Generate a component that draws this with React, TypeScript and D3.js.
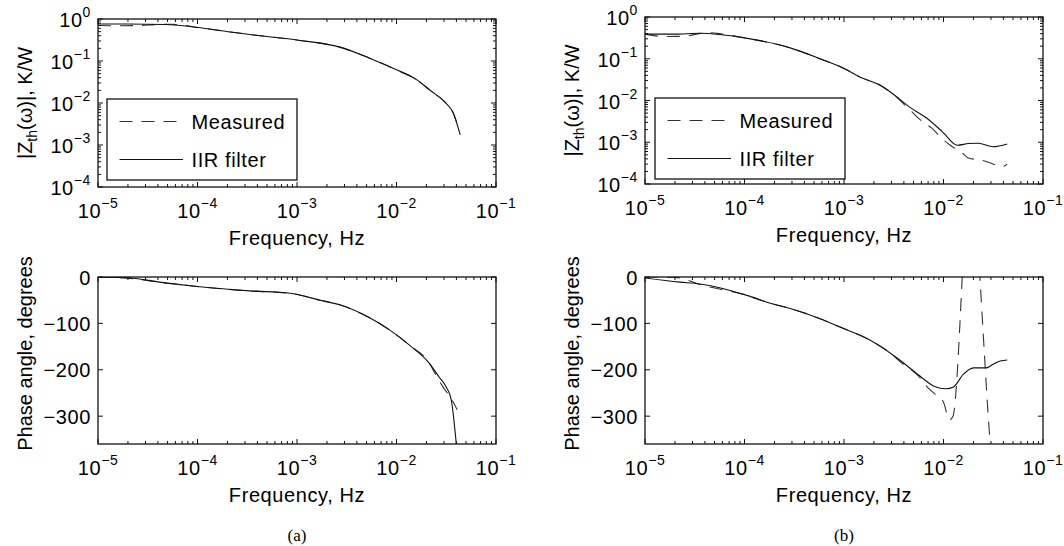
import React from "react";
import * as d3 from "d3";

// Frequencies in Hz and values.
// (a) magnitude |Zth|, K/W
const magAFreqIIR = [1e-5, 2e-5, 4.7e-5, 1.07e-4, 2.14e-4, 4.27e-4, 1.07e-3, 2.69e-3, 5.37e-3, 1e-2, 1.62e-2, 2.19e-2, 3.09e-2, 3.72e-2, 4.37e-2];
const magAIIR = [0.759, 0.759, 0.741, 0.617, 0.49, 0.398, 0.309, 0.214, 0.117, 0.0617, 0.035, 0.0198, 0.0103, 0.0058, 0.00174];
const magAFreqMeas = [1e-5, 1.6e-5, 2.5e-5, 4e-5, 5.5e-5, 1.07e-4, 2.14e-4, 4.27e-4, 1.07e-3, 2.69e-3, 5.37e-3, 1e-2, 1.62e-2, 2.19e-2, 3.09e-2, 3.72e-2, 4.2e-2];
const magAMeas = [0.7, 0.69, 0.7, 0.74, 0.75, 0.617, 0.49, 0.398, 0.309, 0.214, 0.117, 0.0617, 0.035, 0.0198, 0.0103, 0.0058, 0.0025];

// (a) phase, degrees
const phAFreqIIR = [1e-5, 2.09e-5, 4.17e-5, 1.05e-4, 3.39e-4, 8.51e-4, 1.7e-3, 2.69e-3, 5.37e-3, 8.51e-3, 1.35e-2, 2.14e-2, 2.69e-2, 3.16e-2, 3.55e-2, 4.07e-2];
const phAIIR = [0, -2, -11, -21, -30, -35, -50, -60, -88, -114, -147, -186, -216, -237, -265, -380];
const phAFreqMeas = [1e-5, 2.09e-5, 3e-5, 4.17e-5, 6e-5, 1.05e-4, 3.39e-4, 8.51e-4, 1.7e-3, 2.69e-3, 5.37e-3, 8.51e-3, 1.35e-2, 2.14e-2, 2.5e-2, 2.95e-2, 3.55e-2, 4.07e-2];
const phAMeas = [0, -3, -7, -12, -15, -21, -30, -35, -50, -60, -88, -114, -147, -186, -212, -238, -262, -286];

// (b) magnitude |Zth|, K/W
const magBFreqIIR = [1e-5, 2e-5, 3.55e-5, 1e-4, 2.88e-4, 6.17e-4, 9.77e-4, 1.45e-3, 2.29e-3, 3.09e-3, 4.57e-3, 6.76e-3, 9.77e-3, 1.38e-2, 1.78e-2, 2.24e-2, 3.16e-2, 4.37e-2];
const magBIIR = [0.389, 0.389, 0.407, 0.316, 0.182, 0.0933, 0.0603, 0.0363, 0.0234, 0.0145, 0.00692, 0.0038, 0.00178, 0.00085, 0.00093, 0.00095, 0.00078, 0.00091];
const magBFreqMeas = [1e-5, 1.6e-5, 2.5e-5, 3.5e-5, 4.5e-5, 6e-5, 1e-4, 2.88e-4, 6.17e-4, 9.77e-4, 1.45e-3, 2.29e-3, 3.09e-3, 4.57e-3, 6.17e-3, 7.59e-3, 9.55e-3, 1.17e-2, 1.55e-2, 1.78e-2, 2.45e-2, 2.95e-2, 3.89e-2, 4.37e-2];
const magBMeas = [0.389, 0.34, 0.345, 0.4, 0.42, 0.39, 0.316, 0.182, 0.0933, 0.0603, 0.0363, 0.0234, 0.0145, 0.006, 0.0031, 0.0022, 0.00126, 0.00085, 0.00055, 0.00042, 0.00037, 0.00032, 0.00026, 0.0003];

// (b) phase, degrees
const phBFreqIIR = [1e-5, 2.24e-5, 3.55e-5, 5.62e-5, 1e-4, 1.78e-4, 2.88e-4, 5.75e-4, 9.12e-4, 1.82e-3, 3.63e-3, 5.75e-3, 8.13e-3, 1.05e-2, 1.26e-2, 1.58e-2, 2e-2, 2.69e-2, 3.16e-2, 3.72e-2, 4.37e-2];
const phBIIR = [-2, -11, -15, -23, -38, -56, -68, -90, -108, -136, -179, -213, -236, -241, -237, -210, -196, -196, -188, -181, -179];
const phBFreqMeas = [1e-5, 2e-5, 2.8e-5, 3.55e-5, 5.62e-5, 1e-4, 1.78e-4, 2.88e-4, 5.75e-4, 9.12e-4, 1.82e-3, 3e-3, 3.63e-3, 5.75e-3, 6.92e-3, 8.51e-3, 1e-2, 1.15e-2, 1.245e-2, 1.84e-2, 2.95e-2, 3.16e-2];
const phBMeas = [0, -1, -8, -16, -26, -38, -56, -68, -90, -108, -136, -166, -182, -216, -238, -255, -270, -308, -300, 209, -360, -440];

const phaseTicks = [0, -100, -200, -300];
const legendLabels = ["Measured", "IIR filter"];

const FONT = "'Liberation Sans', Arial, Helvetica, sans-serif";
const FS = 20;
const DASH = "13,9";

const sup = (n: number) => String(n).replace("-", "\u2212");
const isDecade = (t: number) => Math.abs(Math.log10(t) - Math.round(Math.log10(t))) < 1e-6;

const Panel = ({ id, left, top, width, height, kind, iir, meas, legend }) => {
  const right = left + width;
  const bottom = top + height;
  const x = d3.scaleLog().domain([1e-5, 1e-1]).range([left, right]);
  const y =
    kind === "mag"
      ? d3.scaleLog().domain([1e-4, 1]).range([bottom, top])
      : d3.scaleLinear().domain([-360, 0]).range([bottom, top]);

  const line = d3
    .line()
    .x((d) => x(d[0]))
    .y((d) => y(d[1]))
    .curve(d3.curveMonotoneX);

  const xTicks = x.ticks();
  const yTicks = kind === "mag" ? y.ticks() : phaseTicks;

  const stroke = "#111";

  return (
    <g fontFamily={FONT}>
      <defs>
        <clipPath id={id}>
          <rect x={left} y={top} width={width} height={height} />
        </clipPath>
      </defs>

      {/* curves */}
      <g clipPath={`url(#${id})`} fill="none" stroke="#111" strokeWidth={1.1}>
        <path d={line(d3.zip(meas[0], meas[1]))} strokeDasharray={DASH} stroke="#333" />
        <path d={line(d3.zip(iir[0], iir[1]))} />
      </g>

      {/* x ticks, top and bottom, inward */}
      {xTicks.map((t, i) => {
        const len = isDecade(t) ? 5 : 3;
        const px = x(t);
        return (
          <g key={"xt" + i} stroke={stroke} strokeWidth={1}>
            <line x1={px} x2={px} y1={bottom} y2={bottom - len} />
            <line x1={px} x2={px} y1={top} y2={top + len} />
          </g>
        );
      })}
      {xTicks.filter(isDecade).map((t, i) => (
        <text key={"xl" + i} x={x(t)} y={bottom + 31} textAnchor="middle" fontSize={FS} letterSpacing={0.6}>
          10
          <tspan dy={-10} fontSize={14}>{sup(Math.round(Math.log10(t)))}</tspan>
        </text>
      ))}

      {/* y ticks, left and right, inward */}
      {yTicks.map((t, i) => {
        const major = kind === "phase" || isDecade(t);
        const len = major ? 5 : 3;
        const py = y(t);
        return (
          <g key={"yt" + i} stroke={stroke} strokeWidth={1}>
            <line x1={left} x2={left + len} y1={py} y2={py} />
            <line x1={right} x2={right - len} y1={py} y2={py} />
          </g>
        );
      })}
      {kind === "mag"
        ? yTicks.filter(isDecade).map((t, i) => (
            <text key={"yl" + i} x={left - 7} y={y(t) + 8} textAnchor="end" fontSize={FS} letterSpacing={0.6}>
              10
              <tspan dy={-10} fontSize={14}>{sup(Math.round(Math.log10(t)))}</tspan>
            </text>
          ))
        : yTicks.map((t, i) => (
            <text key={"yl" + i} x={left - 7} y={y(t) + 7.5} textAnchor="end" fontSize={FS} letterSpacing={0.6}>
              {sup(t)}
            </text>
          ))}

      {/* box */}
      <rect x={left} y={top} width={width} height={height} fill="none" stroke="#111" strokeWidth={1.3} />

      {/* axis titles */}
      <text x={(left + right) / 2} y={bottom + 58} textAnchor="middle" fontSize={FS} letterSpacing={0.6}>
        Frequency, Hz
      </text>
      {kind === "mag" ? (
        <text transform={`translate(${left - 66},${(top + bottom) / 2}) rotate(-90)`} textAnchor="middle" fontSize={FS}>
          |Z
          <tspan dy={5} fontSize={14}>th</tspan>
          <tspan dy={-5}>(ω)|, K/W</tspan>
        </text>
      ) : (
        <text transform={`translate(${left - 66},${(top + bottom) / 2 - 7}) rotate(-90)`} textAnchor="middle" fontSize={FS}>
          Phase angle, degrees
        </text>
      )}

      {/* legend */}
      {legend && (
        <g>
          <rect x={legend.x} y={legend.y} width={190} height={81} fill="#fff" stroke="#111" strokeWidth={1.3} />
          {legendLabels.map((lab, i) => {
            const ly = legend.y + 22.5 + i * 38;
            return (
              <g key={lab}>
                <line
                  x1={legend.x + 12.5}
                  x2={legend.x + 76}
                  y1={ly}
                  y2={ly}
                  stroke={i === 0 ? "#333" : "#111"}
                  strokeWidth={1.1}
                  strokeDasharray={i === 0 ? DASH : undefined}
                />
                <text x={legend.x + 84.5} y={ly + 7.5} fontSize={FS} letterSpacing={0.6}>
                  {lab}
                </text>
              </g>
            );
          })}
        </g>
      )}
    </g>
  );
};

const App = () => {
  return (
    <svg
      width={1064}
      height={546}
      style={{ position: "absolute", left: 0, top: 0, background: "#fff" }}
    >
      <Panel id="cmA" left={98} top={19} width={398} height={168} kind="mag"
        iir={[magAFreqIIR, magAIIR]} meas={[magAFreqMeas, magAMeas]} legend={{ x: 107, y: 99 }} />
      <Panel id="cmB" left={645} top={17} width={398} height={167} kind="mag"
        iir={[magBFreqIIR, magBIIR]} meas={[magBFreqMeas, magBMeas]} legend={{ x: 655, y: 98 }} />
      <Panel id="cpA" left={98} top={277} width={398} height={167} kind="phase"
        iir={[phAFreqIIR, phAIIR]} meas={[phAFreqMeas, phAMeas]} legend={null} />
      <Panel id="cpB" left={645} top={277} width={398} height={167} kind="phase"
        iir={[phBFreqIIR, phBIIR]} meas={[phBFreqMeas, phBMeas]} legend={null} />

      <text x={297} y={541} textAnchor="middle" fontFamily="'Liberation Serif', 'Times New Roman', serif" fontSize={17}>(a)</text>
      <text x={844} y={541} textAnchor="middle" fontFamily="'Liberation Serif', 'Times New Roman', serif" fontSize={17}>(b)</text>
    </svg>
  );
};

export default App;
